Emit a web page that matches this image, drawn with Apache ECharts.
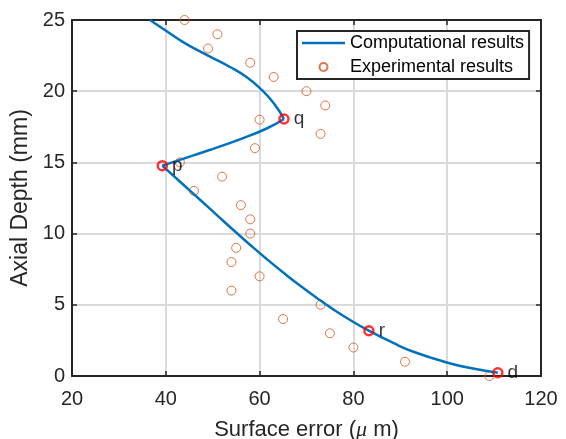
<!DOCTYPE html>
<html>
<head>
<meta charset="utf-8">
<title>Surface error vs axial depth</title>
<script src="https://cdn.jsdelivr.net/npm/echarts@6/dist/echarts.min.js"></script>
<style>
  html, body { margin: 0; padding: 0; background: #ffffff; }
  #chart { width: 566px; height: 439px; }
</style>
</head>
<body>
<div id="chart"></div>
<script>
// Experimental measurements: surface error (µm) at each axial depth (mm)
const expDepth = [0, 1, 2, 3, 4, 5, 6, 7, 8, 9, 10, 11, 12, 13, 14, 15, 16, 17, 18, 19, 20, 21, 22, 23, 24, 25];
const expError = [109, 91, 80, 75, 65, 73, 54, 60, 54, 55, 58, 58, 56, 46, 52, 43, 59, 73, 60, 74, 70, 63, 58, 49, 51, 44];

// Computational curve, in three pieces that meet at the corner points q and p
const upperError  = [36.6, 39.8, 43.7, 48.7, 53.7, 57.2, 60.1, 62.9, 65.2];
const upperDepth  = [25.0, 24.3, 23.45, 22.55, 21.7, 21.0, 20.2, 19.2, 18.05];
const middleError = [65.2, 61.5, 55.8, 48.7, 43.0, 39.25];
const middleDepth = [18.05, 17.38, 16.62, 15.8, 15.18, 14.77];
const lowerError  = [39.25, 43.7, 47.3, 50.9, 54.4, 57.95, 61.5, 65.1, 68.6, 72.2, 75.7, 79.3, 83.3, 88.5, 92.8, 99.9, 105.5, 110.8];
const lowerDepth  = [14.77, 13.45, 12.38, 11.30, 10.25, 9.22, 8.22, 7.25, 6.35, 5.48, 4.68, 3.93, 3.18, 2.32, 1.70, 0.95, 0.52, 0.23];

// Marked points on the computational curve
const keyNames = ['q', 'p', 'r', 'd'];
const keyError = [65.2, 39.25, 83.3, 110.8];
const keyDepth = [18.05, 14.77, 3.18, 0.23];

// Axis ranges and tick spacing
const xMin = 20, xMax = 120, xStep = 20;
const yMin = 0, yMax = 25, yStep = 5;

const FONT = "'Liberation Sans', Arial, Helvetica, sans-serif";
const AXIS_COLOR = '#262626';
const GRID_COLOR = '#dadada';
const LINE_COLOR = '#0072BD';
const EXP_COLOR = '#D95319';

const zip = (xs, ys) => xs.map((x, i) => [x, ys[i]]);

function axisBase(extra) {
  return Object.assign({
    type: 'value',
    axisLine: { show: true, onZero: false, lineStyle: { color: AXIS_COLOR, width: 2 } },
    axisTick: { show: true, inside: true, length: 5, lineStyle: { color: AXIS_COLOR, width: 1.5 } },
    axisLabel: { color: AXIS_COLOR, fontFamily: FONT, fontSize: 20 },
    splitLine: { show: false }
  }, extra);
}

const lineSeries = (data) => ({
  name: 'Computational results',
  type: 'line',
  data: data,
  smooth: 0.5,
  symbol: 'none',
  clip: true,
  lineStyle: { color: LINE_COLOR, width: 2.5 },
  itemStyle: { color: LINE_COLOR },
  z: 3
});

const chart = echarts.init(document.getElementById('chart'), null, { renderer: 'canvas' });

chart.setOption({
  backgroundColor: '#ffffff',
  animation: false,
  // fixed plot box; labels and titles may sit close to the canvas edge
  grid: { left: 72, right: 25, top: 20, bottom: 63, containLabel: false, outerBoundsMode: 'none' },
  legend: {
    data: [
      // plain stroke sample for the curve entry
      { name: 'Computational results', icon: 'path://M0,0L43,0L43,2.5L0,2.5Z' },
      { name: 'Experimental results' }
    ],
    orient: 'vertical',
    left: 297,
    top: 31,
    padding: [3, 5, 3, 5],
    itemGap: 6,
    itemWidth: 43,
    itemHeight: 8,
    itemTextGap: 2,
    symbolKeepAspect: true,
    backgroundColor: '#ffffff',
    borderColor: AXIS_COLOR,
    borderWidth: 2,
    textStyle: { color: '#000000', fontFamily: FONT, fontSize: 18 },
    z: 10
  },
  xAxis: [
    axisBase({
      min: xMin, max: xMax, interval: xStep, position: 'bottom',
      axisLabel: { color: AXIS_COLOR, fontFamily: FONT, fontSize: 20, margin: 13 },
      splitLine: { show: true, lineStyle: { color: GRID_COLOR, width: 2 } },
      name: 'Surface error ({mu|μ} m)',
      nameLocation: 'middle',
      nameGap: 43,
      nameTextStyle: {
        color: AXIS_COLOR, fontFamily: FONT, fontSize: 22,
        rich: { mu: { fontFamily: "'Liberation Serif', 'DejaVu Serif', serif", fontStyle: 'italic', fontSize: 22, color: AXIS_COLOR } }
      }
    }),
    axisBase({
      min: xMin, max: xMax, interval: xStep, position: 'top',
      axisLabel: { show: false }
    })
  ],
  yAxis: [
    axisBase({
      min: yMin, max: yMax, interval: yStep, position: 'left',
      axisLabel: { color: AXIS_COLOR, fontFamily: FONT, fontSize: 20, margin: 7 },
      splitLine: { show: true, lineStyle: { color: GRID_COLOR, width: 2 } },
      name: 'Axial Depth (mm)',
      nameLocation: 'middle',
      nameGap: 37,
      nameTextStyle: { color: AXIS_COLOR, fontFamily: FONT, fontSize: 23 }
    }),
    axisBase({
      min: yMin, max: yMax, interval: yStep, position: 'right',
      axisLabel: { show: false }
    })
  ],
  series: [
    lineSeries(zip(upperError, upperDepth)),
    lineSeries(zip(middleError, middleDepth)),
    lineSeries(zip(lowerError, lowerDepth)),
    {
      name: 'Experimental results',
      type: 'scatter',
      data: zip(expError, expDepth),
      symbol: 'circle',
      symbolSize: 9,
      clip: false,
      itemStyle: { color: 'rgba(255,255,255,0)', borderColor: EXP_COLOR, borderWidth: 1 },
      z: 2
    },
    {
      name: 'key points',
      type: 'scatter',
      data: keyNames.map((n, i) => ({ name: n, value: [keyError[i], keyDepth[i]] })),
      symbol: 'circle',
      symbolSize: 9,
      clip: false,
      itemStyle: { color: 'rgba(255,255,255,0)', borderColor: '#FF0000', borderWidth: 2.5 },
      label: {
        show: true,
        position: 'right',
        distance: 4,
        formatter: (p) => p.name,
        color: '#000000',
        fontFamily: FONT,
        fontSize: 19
      },
      z: 5
    }
  ]
});
</script>
</body>
</html>
